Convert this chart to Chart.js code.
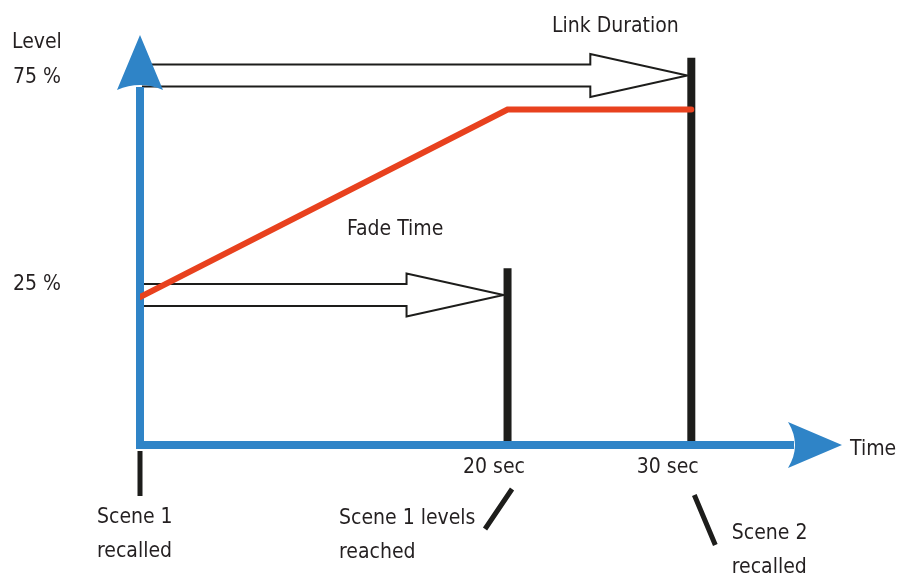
<!DOCTYPE html>
<html><head><meta charset="utf-8">
<script src="https://cdn.jsdelivr.net/npm/chart.js@4"></script>
<style>html,body{margin:0;padding:0;background:#fff;}canvas{display:block;}</style>
</head><body>
<canvas id="c" width="898" height="574"></canvas>
<script>
// ---- data ----
const levelTimes = [0, 20, 30];
const levelValues = [21.7, 67, 67];
const markerTimes = [20, 30];
const markerTops = [28.7, 79.5];
const xTickValues = [20, 30];
const xTickLabels = ['20 sec', '30 sec'];
const yTickValues = [25, 75];
const yTickLabels = ['25 %', '75 %'];
const spanNames = ['Fade Time', 'Link Duration'];
const spanEnds = [20, 30];
const spanLevels = [22.2, 75.2];
const eventTimes = [0, 20, 30];
const eventNames = [['Scene 1', 'recalled'], ['Scene 1 levels', 'reached'], ['Scene 2', 'recalled']];
const axisTitles = ['Level', 'Time'];

// ---- styles ----
const BLUE = '#2f84c7', RED = '#e8411e', BLACK = '#1d1d1b', TEXT = '#231f20';
const FONT = '21px "DejaVu Sans Condensed", "DejaVu Sans"';
const X_MIN = 0, X_MAX = 38.2, Y_MIN = -14, Y_MAX = 85;

const datasets = [{
  label: 'Level', order: 0,
  data: levelTimes.map((t, i) => ({x: t, y: levelValues[i]})),
  borderColor: RED, borderWidth: 6, borderCapStyle: 'round', borderJoinStyle: 'miter',
  pointRadius: 0, tension: 0, fill: false
}];
markerTimes.forEach((t, i) => datasets.push({
  label: 'marker' + i, order: 1,
  data: [{x: t, y: Y_MIN}, {x: t, y: markerTops[i]}],
  borderColor: BLACK, borderWidth: 8, borderCapStyle: 'butt', pointRadius: 0, fill: false
}));

function hollowArrow(ctx, x0, tip, cy) {
  const sh = 11, hh = 21.5, hl = 97;
  ctx.save();
  ctx.beginPath();
  ctx.moveTo(x0, cy - sh);
  ctx.lineTo(tip - hl, cy - sh);
  ctx.lineTo(tip - hl, cy - hh);
  ctx.lineTo(tip, cy);
  ctx.lineTo(tip - hl, cy + hh);
  ctx.lineTo(tip - hl, cy + sh);
  ctx.lineTo(x0, cy + sh);
  ctx.fillStyle = '#fff';
  ctx.fill();
  ctx.strokeStyle = BLACK; ctx.lineWidth = 2; ctx.lineJoin = 'miter';
  ctx.stroke();
  ctx.restore();
}

function drawAxes(chart) {
  const ctx = chart.ctx, a = chart.chartArea;
  const ox = a.left, oy = a.bottom;
  ctx.save();
  ctx.strokeStyle = BLUE; ctx.fillStyle = BLUE; ctx.lineWidth = 8; ctx.lineCap = 'butt';
  ctx.beginPath();
  ctx.moveTo(ox, oy + 4); ctx.lineTo(ox, a.top + 52);
  ctx.moveTo(ox - 4, oy); ctx.lineTo(a.right - 48, oy);
  ctx.stroke();
  // y arrowhead
  ctx.beginPath();
  ctx.moveTo(ox, a.top);
  ctx.lineTo(ox + 23, a.top + 55);
  ctx.quadraticCurveTo(ox, a.top + 45, ox - 23, a.top + 55);
  ctx.closePath(); ctx.fill();
  // x arrowhead
  ctx.beginPath();
  ctx.moveTo(a.right, oy);
  ctx.lineTo(a.right - 54, oy - 23);
  ctx.quadraticCurveTo(a.right - 40, oy, a.right - 54, oy + 23);
  ctx.closePath(); ctx.fill();
  ctx.restore();
}

const diagram = {
  id: 'diagram',
  beforeDatasetsDraw(chart) {
    const ctx = chart.ctx, xs = chart.scales.x, ys = chart.scales.y;
    spanEnds.forEach((t, i) => hollowArrow(ctx, xs.getPixelForValue(0) + 2, xs.getPixelForValue(t) - 4, ys.getPixelForValue(spanLevels[i])));
  },
  beforeDatasetDraw(chart, args) {
    if (args.index === 0) drawAxes(chart);
  },
  afterDatasetsDraw(chart) {
    const ctx = chart.ctx, xs = chart.scales.x, ys = chart.scales.y, a = chart.chartArea;
    ctx.save();
    ctx.font = FONT; ctx.fillStyle = TEXT; ctx.textAlign = 'left'; ctx.textBaseline = 'alphabetic';
    // axis titles
    ctx.fillText(axisTitles[0], 12, 48);
    ctx.fillText(axisTitles[1], a.right + 8, a.bottom + 10);
    // y ticks
    yTickValues.forEach((v, i) => ctx.fillText(yTickLabels[i], 13, ys.getPixelForValue(v) + 7));
    // x ticks
    const xOff = [-44.5, -54.5];
    xTickValues.forEach((v, i) => ctx.fillText(xTickLabels[i], xs.getPixelForValue(v) + xOff[i], a.bottom + 28));
    // span names
    ctx.fillText(spanNames[0], 347, 235);
    ctx.fillText(spanNames[1], 552, 32);
    // event names
    const evOff = [[-43, 78], [-168.5, 79], [40.5, 94]];
    eventTimes.forEach((t, i) => {
      const px = xs.getPixelForValue(t) + evOff[i][0];
      ctx.fillText(eventNames[i][0], px, a.bottom + evOff[i][1]);
      ctx.fillText(eventNames[i][1], px, a.bottom + evOff[i][1] + 34);
    });
    // event ticks
    ctx.strokeStyle = BLACK; ctx.lineWidth = 5; ctx.lineCap = 'butt';
    const p0 = xs.getPixelForValue(eventTimes[0]), p1 = xs.getPixelForValue(eventTimes[1]), p2 = xs.getPixelForValue(eventTimes[2]);
    ctx.beginPath();
    ctx.moveTo(p0, a.bottom + 6); ctx.lineTo(p0, a.bottom + 51);
    ctx.moveTo(p1 + 4.5, a.bottom + 44); ctx.lineTo(p1 - 22.5, a.bottom + 84);
    ctx.moveTo(p2 + 3, a.bottom + 50); ctx.lineTo(p2 + 24, a.bottom + 100);
    ctx.stroke();
    ctx.restore();
  }
};

new Chart(document.getElementById('c'), {
  type: 'line',
  data: {datasets},
  options: {
    responsive: false, animation: false,
    layout: {padding: {left: 140, right: 56, top: 35, bottom: 129}},
    plugins: {legend: {display: false}, tooltip: {enabled: false}},
    scales: {
      x: {type: 'linear', min: X_MIN, max: X_MAX, display: false},
      y: {type: 'linear', min: Y_MIN, max: Y_MAX, display: false}
    }
  },
  plugins: [diagram]
});
</script>
</body></html>
